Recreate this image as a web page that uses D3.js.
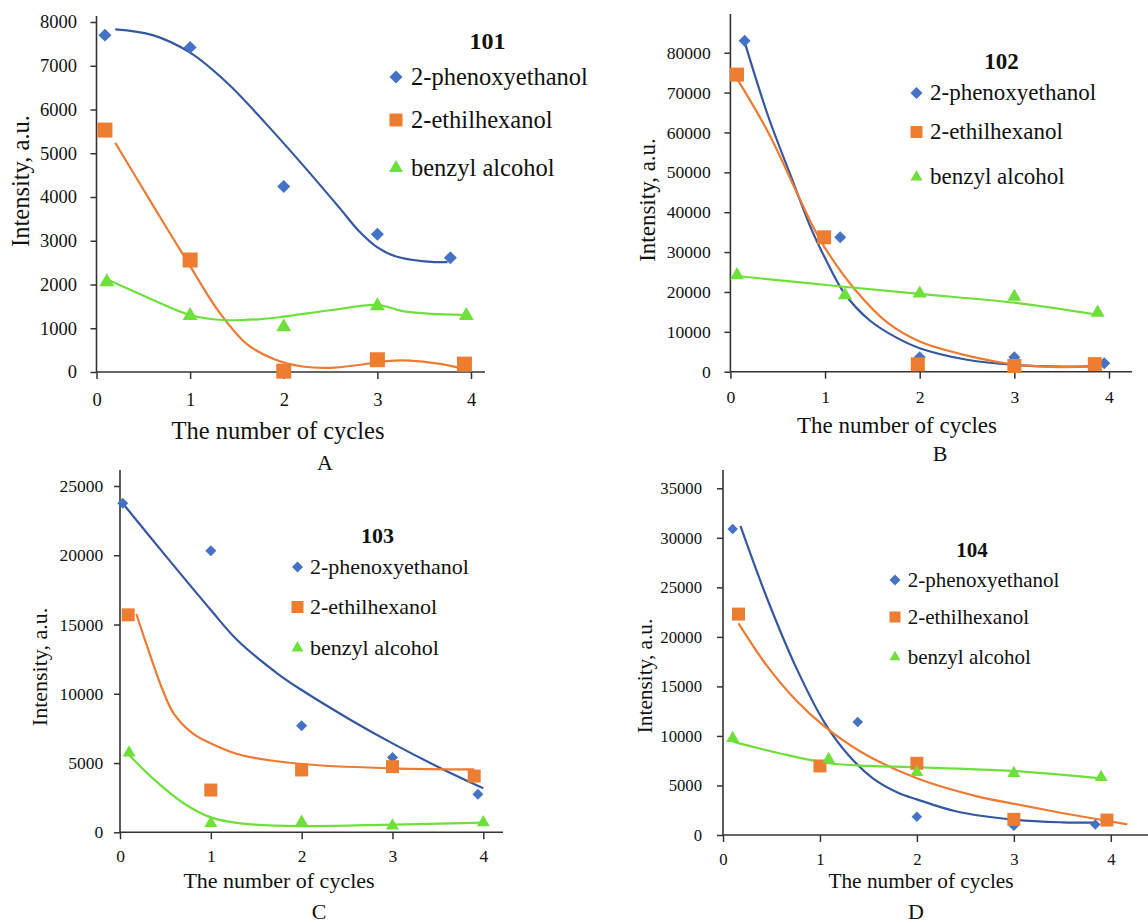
<!DOCTYPE html>
<html>
<head>
<meta charset="utf-8">
<script src="https://cdn.jsdelivr.net/npm/d3@7"></script>
<style>
  html, body { margin: 0; padding: 0; background: #fff; }
  svg { display: block; }
</style>
</head>
<body>
<svg id="chart" width="1148" height="923"></svg>
<script>
// ── data ──
const SERIES  = ['2-phenoxyethanol', '2-ethilhexanol', 'benzyl alcohol'];
const X_TICKS = [0, 1, 2, 3, 4];

// panel A — sample 101
const A_yTicks  = [0, 1000, 2000, 3000, 4000, 5000, 6000, 7000, 8000];
const A_phenox  = [[0.09, 7700], [1, 7420], [2, 4240], [3, 3150], [3.78, 2610]];
const A_ethil   = [[0.09, 5530], [1, 2560], [2, 20], [3, 280], [3.93, 180]];
const A_benzyl  = [[0.11, 2060], [1, 1290], [2, 1030], [3, 1510], [3.95, 1290]];
const A_phenoxFit = [[0.2, 7830], [0.6, 7700], [1, 7300], [1.4, 6600], [1.8, 5700], [2.2, 4740],
                     [2.6, 3740], [2.8, 3230], [3.0, 2850], [3.2, 2640], [3.5, 2530], [3.75, 2510]];
const A_ethilFit  = [[0.2, 5240], [0.6, 3820], [1.0, 2420], [1.3, 1400], [1.6, 650], [1.9, 290], [2.2, 125],
                     [2.5, 95], [2.8, 160], [3.1, 250], [3.35, 260], [3.65, 190], [3.93, 70]];
const A_benzylFit = [[0.11, 2118], [0.55, 1699], [1, 1303], [1.34, 1189], [1.73, 1205], [2, 1265],
                     [2.52, 1417], [3, 1531], [3.3, 1379], [3.93, 1303]];

// panel B — sample 102
const B_yTicks  = [0, 10000, 20000, 30000, 40000, 50000, 60000, 70000, 80000];
const B_phenox  = [[0.15, 83000], [1.16, 33700], [2, 3600], [3, 3600], [3.95, 2100]];
const B_ethil   = [[0.07, 74500], [0.99, 33700], [1.98, 1850], [3, 1430], [3.85, 1900]];
const B_benzyl  = [[0.07, 24200], [1.21, 19200], [2, 19600], [3, 18800], [3.88, 14800]];
const B_phenoxFit = [[0.15, 82700], [0.4, 64000], [0.64, 49000], [0.86, 35500], [1.0, 28500], [1.2, 19800],
                     [1.47, 12900], [1.75, 8600], [2, 5900], [2.5, 3000], [3, 1700], [3.5, 1300], [3.92, 1400]];
const B_ethilFit  = [[0.07, 73500], [0.4, 60000], [0.71, 44500], [0.86, 37000], [1.0, 31000], [1.32, 20500],
                     [1.66, 12300], [2, 7600], [2.62, 3400], [3, 1800], [3.46, 1150], [3.85, 1300]];
const B_benzylFit = [[0.07, 24000], [1.2, 21300], [2, 19500], [3, 17300], [3.85, 14400]];

// panel C — sample 103
const C_yTicks  = [0, 5000, 10000, 15000, 20000, 25000];
const C_phenox  = [[0.03, 23750], [1, 20330], [2, 7700], [3, 5400], [3.94, 2740]];
const C_ethil   = [[0.09, 15700], [1, 3050], [2, 4500], [3, 4740], [3.9, 4060]];
const C_benzyl  = [[0.1, 5750], [1, 650], [2, 750], [3, 480], [4, 700]];
const C_phenoxFit = [[0.03, 23750], [0.51, 19900], [1, 16050], [1.29, 13880], [1.73, 11480], [2, 10270],
                     [2.54, 8110], [3, 6420], [3.57, 4500], [4, 3180]];
const C_ethilFit  = [[0.18, 15760], [0.3, 13400], [0.47, 10270], [0.59, 8590], [0.8, 7150], [1, 6420],
                     [1.33, 5580], [2, 4930], [3, 4620], [3.9, 4540]];
const C_benzylFit = [[0.1, 5580], [0.38, 3780], [0.7, 2100], [1, 1080], [1.33, 640], [2, 450], [3, 560], [4, 700]];

// panel D — sample 104
const D_yTicks  = [0, 5000, 10000, 15000, 20000, 25000, 30000, 35000];
const D_phenox  = [[0.1, 30900], [1.39, 11400], [2, 1850], [3, 940], [3.84, 1070]];
const D_ethil   = [[0.16, 22300], [1, 6970], [2, 7240], [3, 1580], [3.96, 1510]];
const D_benzyl  = [[0.1, 9760], [1.09, 7640], [2, 6330], [3, 6230], [3.9, 5820]];
const D_phenoxFit = [[0.18, 31200], [0.45, 24000], [0.75, 17000], [1.05, 11300], [1.3, 8000], [1.55, 5700],
                     [1.8, 4300], [2.0, 3600], [2.4, 2400], [3.0, 1550], [3.5, 1280], [3.84, 1240]];
const D_ethilFit  = [[0.16, 21370], [0.46, 16990], [0.75, 13630], [1.05, 10930], [1.42, 8410], [2, 5720],
                     [2.62, 3900], [3, 3150], [3.48, 2250], [4.17, 1080]];
const D_benzylFit = [[0.1, 9420], [0.58, 8250], [1.09, 7240], [1.51, 6970], [2, 6840], [3, 6460], [3.9, 5720]];

// ── styles ──
const FONT  = '"Liberation Serif", "Times New Roman", serif';
const INK   = '#111';
const AXIS  = '#333';
const MARK  = ['#4472C4', '#ED7D31', '#6EE03A'];
const LINE  = ['#3558A0', '#EE7B33', '#6EE03A'];

// geometry per panel
const PANELS = [
  { name: '101', tag: 'A', pts: [A_phenox, A_ethil, A_benzyl], fit: [A_phenoxFit, A_ethilFit, A_benzylFit],
    yTicks: A_yTicks, x0: 96.5, x4: 471, xEnd: 485, y0: 372, yTop: 22, axisTop: 16,
    tickFs: 18.5, yPad: 13.5, xLabY: 34, titleFs: 24.5, legFs: 24.5, ms: [13, 15, 15], lms: [13, 13, 14],
    yTitle: [20, 181], xTitle: [278, 439], tagPos: [325, 470], head: [487.5, 49], headFs: 24,
    legX: 396, legTx: 411, legY: [77, 120, 168] },
  { name: '102', tag: 'B', pts: [B_phenox, B_ethil, B_benzyl], fit: [B_phenoxFit, B_ethilFit, B_benzylFit],
    yTicks: B_yTicks, x0: 730.4, x4: 1109, xEnd: 1132, y0: 371.7, yTop: 52.7, axisTop: 14,
    tickFs: 17.6, yPad: 13.7, xLabY: 31, titleFs: 23, legFs: 23, ms: [12, 14, 14], lms: [12, 12, 12],
    yTitle: [647, 200], xTitle: [897, 433], tagPos: [940, 461], head: [1001.5, 69], headFs: 23,
    legX: 916.5, legTx: 930, legY: [93, 132, 177] },
  { name: '103', tag: 'C', pts: [C_phenox, C_ethil, C_benzyl], fit: [C_phenoxFit, C_ethilFit, C_benzylFit],
    yTicks: C_yTicks, x0: 120, x4: 483.3, xEnd: 503, y0: 832.3, yTop: 486, axisTop: 470,
    tickFs: 17.5, yPad: 10.7, xLabY: 30, titleFs: 22, legFs: 22, ms: [11, 13, 13], lms: [11, 12, 12],
    yTitle: [39, 667], xTitle: [279, 888], tagPos: [319, 919], head: [377.5, 543], headFs: 22,
    legX: 297.5, legTx: 310, legY: [567, 607, 648] },
  { name: '104', tag: 'D', pts: [D_phenox, D_ethil, D_benzyl], fit: [D_phenoxFit, D_ethilFit, D_benzylFit],
    yTicks: D_yTicks, x0: 723, x4: 1110.8, xEnd: 1148, y0: 835, yTop: 488.3, axisTop: 470,
    tickFs: 16.7, yPad: 15, xLabY: 30, titleFs: 21.3, legFs: 21, ms: [10.5, 13, 13], lms: [11, 11, 11],
    yTitle: [645, 676], xTitle: [921, 888], tagPos: [916, 919], head: [972, 557], headFs: 21,
    legX: 895, legTx: 907.7, legY: [580, 617, 657] },
];

const svg = d3.select('#chart');
svg.append('rect').attr('width', 1148).attr('height', 923).attr('fill', '#fff');

// marker path: diamond = rotated square, area from visible size
function marker(kind, size) {
  if (kind === 0) return { d: d3.symbol(d3.symbolSquare, (size * size) / 2)(), rot: 45 };
  if (kind === 1) return { d: d3.symbol(d3.symbolSquare, size * size)(), rot: 0 };
  return { d: d3.symbol(d3.symbolTriangle, size * size * Math.sqrt(3) / 4)(), rot: 0 };
}

function drawPanel(p) {
  const yMax = p.yTicks[p.yTicks.length - 1];
  const x = d3.scaleLinear([0, 4], [p.x0, p.x4]);
  const y = d3.scaleLinear([0, yMax], [p.y0, p.yTop]);
  const g = svg.append('g');

  // y axis
  const ya = g.append('g').attr('transform', `translate(${p.x0},0)`)
    .call(d3.axisLeft(y).tickValues(p.yTicks).tickSize(6).tickPadding(p.yPad).tickFormat(d3.format('d')));
  ya.select('.domain').remove();
  ya.selectAll('line').attr('stroke', AXIS).attr('stroke-width', 1.5);
  ya.selectAll('text').attr('font-family', FONT).attr('font-size', p.tickFs).attr('fill', INK);

  // x axis
  const xa = g.append('g').attr('transform', `translate(0,${p.y0})`)
    .call(d3.axisBottom(x).tickValues(X_TICKS).tickSize(7).tickFormat(d3.format('d')));
  xa.select('.domain').remove();
  xa.selectAll('line').attr('stroke', AXIS).attr('stroke-width', 1.5);
  xa.selectAll('text').attr('font-family', FONT).attr('font-size', p.tickFs).attr('fill', INK)
    .attr('y', p.xLabY).attr('dy', null);

  g.append('line').attr('x1', p.x0).attr('x2', p.x0).attr('y1', p.y0).attr('y2', p.axisTop)
    .attr('stroke', AXIS).attr('stroke-width', 1.6);
  g.append('line').attr('x1', p.x0).attr('x2', p.xEnd).attr('y1', p.y0).attr('y2', p.y0)
    .attr('stroke', AXIS).attr('stroke-width', 1.6);

  // axis titles
  g.append('text')
    .attr('transform', `translate(${p.yTitle[0]},${p.yTitle[1]}) rotate(-90)`)
    .attr('text-anchor', 'middle').attr('dy', '0.35em')
    .attr('font-family', FONT).attr('font-size', p.titleFs).attr('fill', INK)
    .text('Intensity, a.u.');
  g.append('text').attr('x', p.xTitle[0]).attr('y', p.xTitle[1])
    .attr('text-anchor', 'middle')
    .attr('font-family', FONT).attr('font-size', p.titleFs).attr('fill', INK)
    .text('The number of cycles');
  g.append('text').attr('x', p.tagPos[0]).attr('y', p.tagPos[1])
    .attr('text-anchor', 'middle')
    .attr('font-family', FONT).attr('font-size', 22).attr('fill', INK)
    .text(p.tag);

  // trend curves
  const line = d3.line().x(d => x(d[0])).y(d => y(d[1])).curve(d3.curveCatmullRom.alpha(0.5));
  p.fit.forEach((f, i) => {
    g.append('path').attr('d', line(f)).attr('fill', 'none')
      .attr('stroke', LINE[i]).attr('stroke-width', 2.2);
  });

  // markers
  p.pts.forEach((pts, i) => {
    const m = marker(i, p.ms[i]);
    g.selectAll(null).data(pts).join('path')
      .attr('d', m.d)
      .attr('transform', d => `translate(${x(d[0])},${y(d[1])}) rotate(${m.rot})`)
      .attr('fill', MARK[i]);
  });

  // legend
  g.append('text').attr('x', p.head[0]).attr('y', p.head[1])
    .attr('text-anchor', 'middle').attr('font-weight', 'bold')
    .attr('font-family', FONT).attr('font-size', p.headFs).attr('fill', INK)
    .text(p.name);
  SERIES.forEach((s, i) => {
    const m = marker(i, p.lms[i]);
    g.append('path').attr('d', m.d)
      .attr('transform', `translate(${p.legX},${p.legY[i]}) rotate(${m.rot})`)
      .attr('fill', MARK[i]);
    g.append('text').attr('x', p.legTx).attr('y', p.legY[i]).attr('dy', '0.32em')
      .attr('font-family', FONT).attr('font-size', p.legFs).attr('fill', INK)
      .text(s);
  });
}

PANELS.forEach(drawPanel);
</script>
</body>
</html>
